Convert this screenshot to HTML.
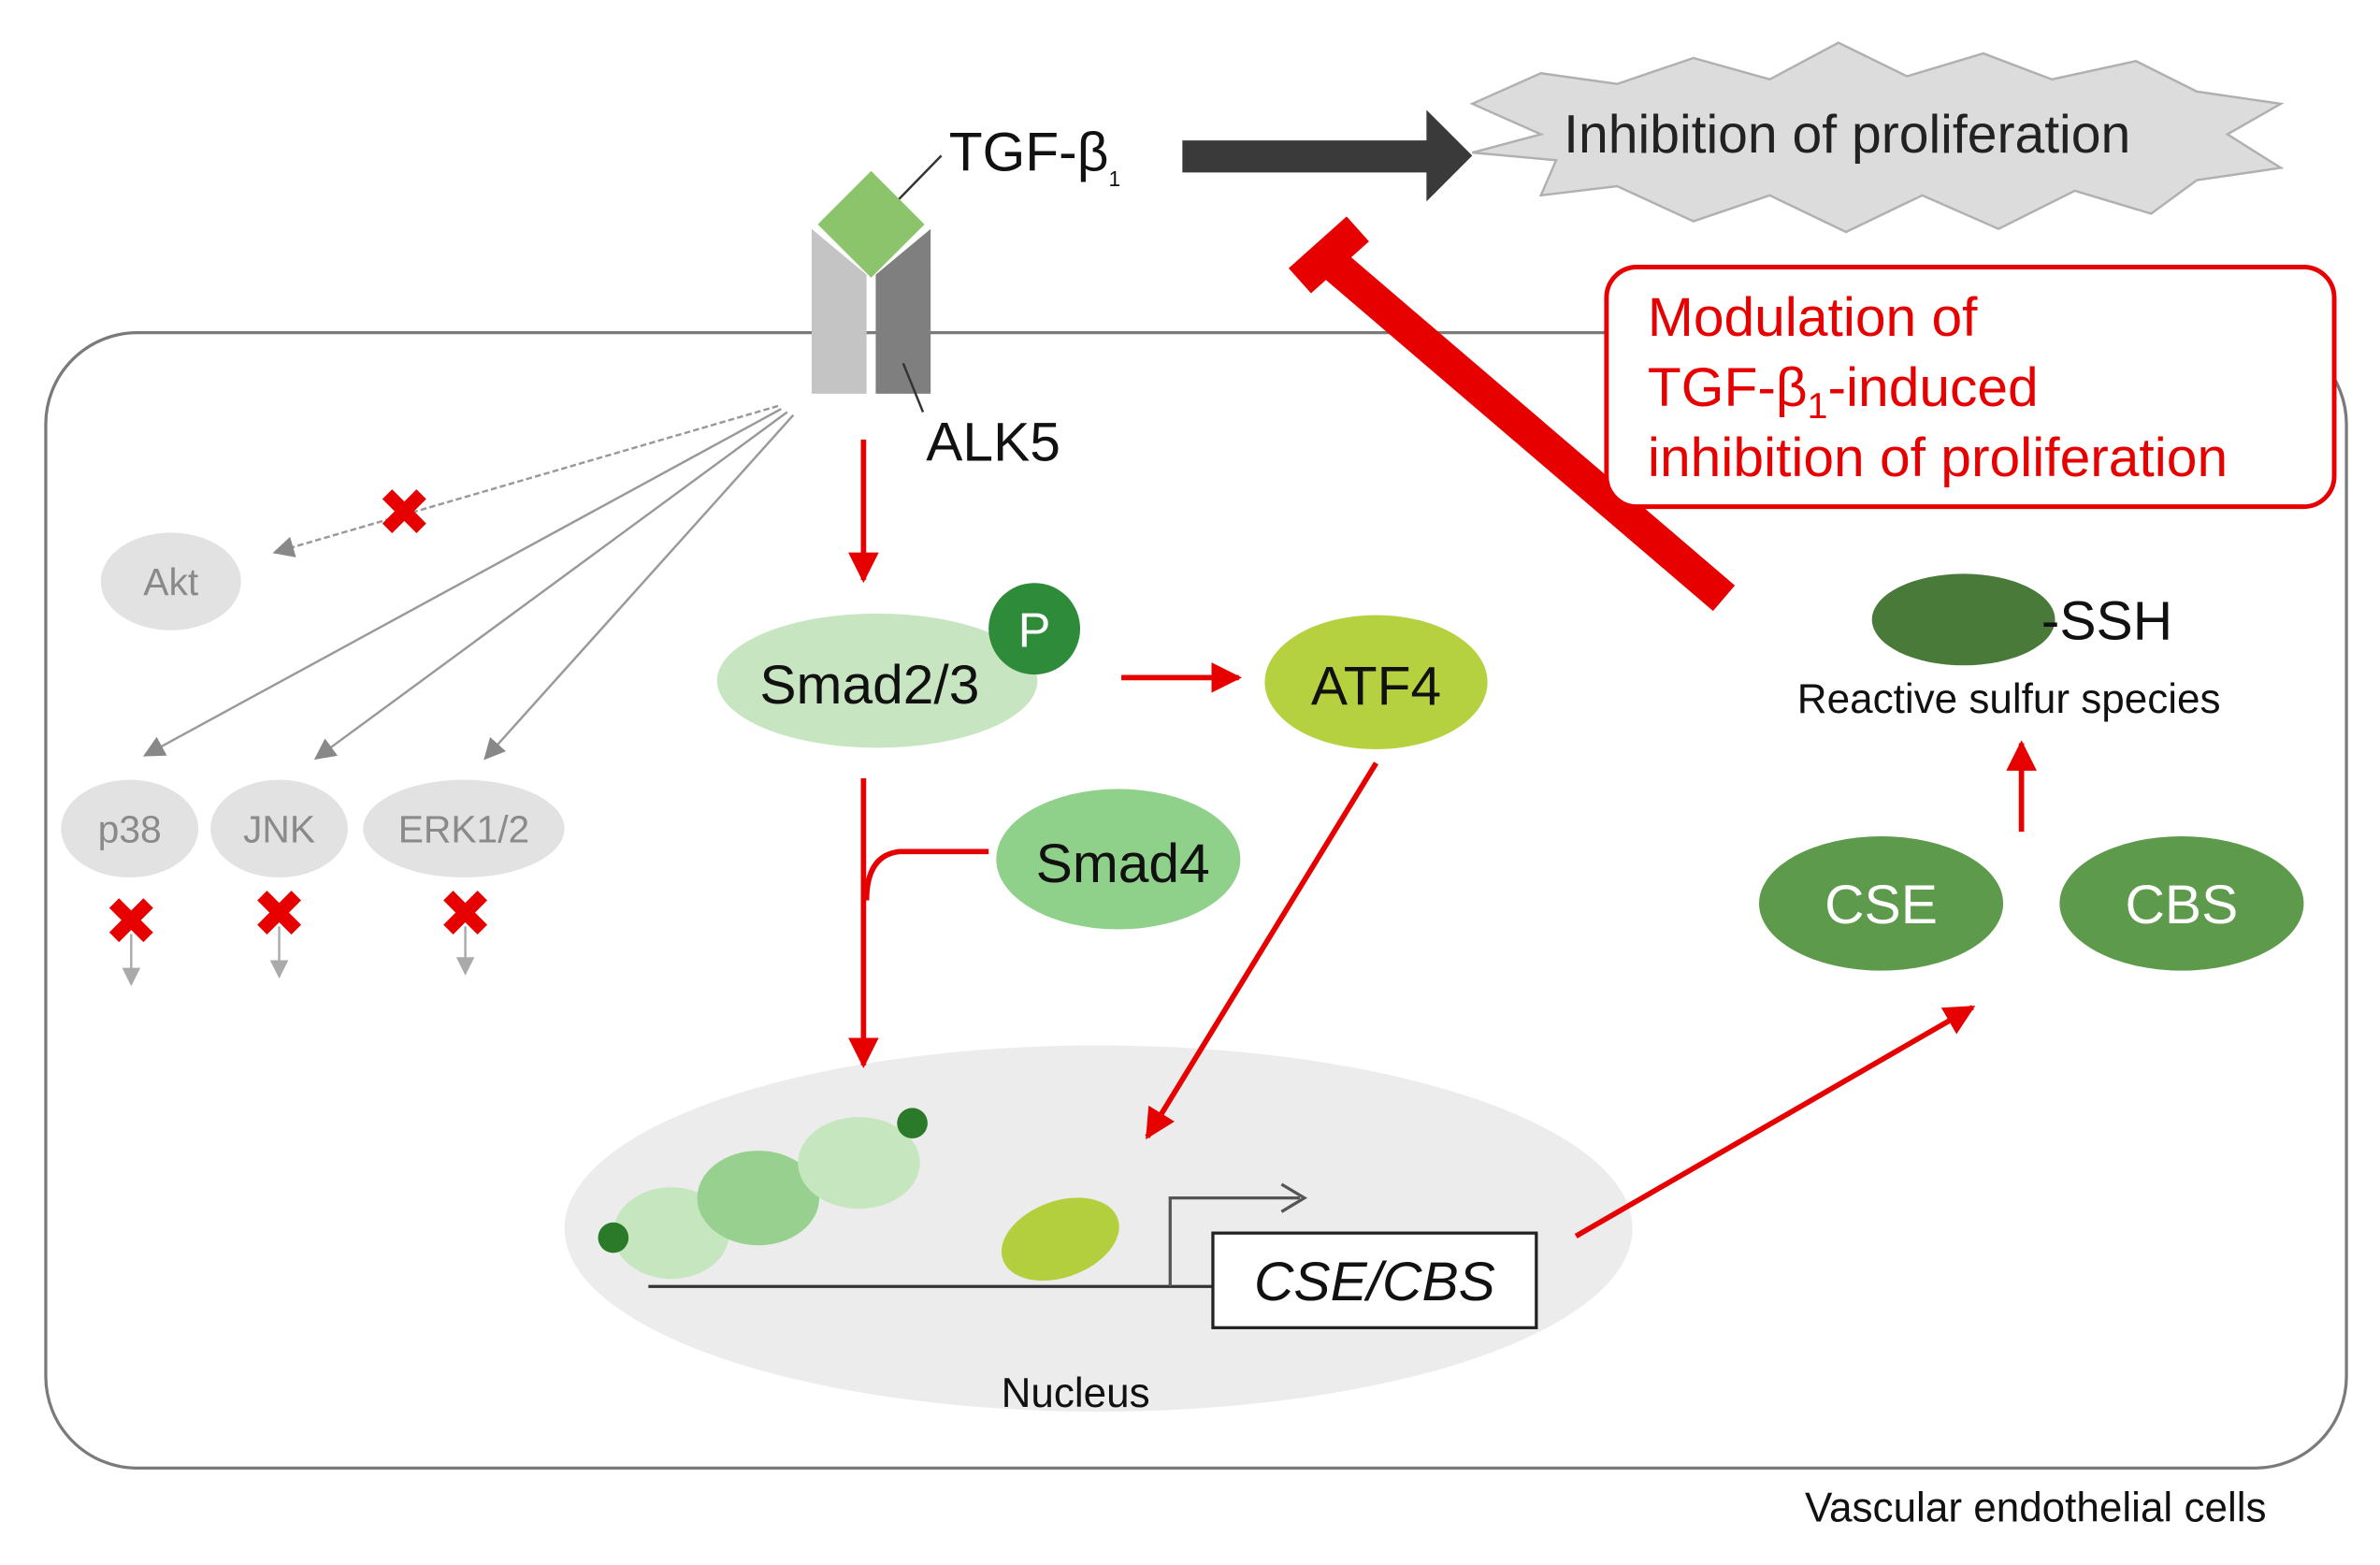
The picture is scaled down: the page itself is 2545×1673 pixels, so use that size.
<!DOCTYPE html>
<html><head><meta charset="utf-8"><style>
html,body{margin:0;padding:0;background:#fff;width:2545px;height:1673px;overflow:hidden}
svg{display:block}
text{font-family:"Liberation Sans",sans-serif}
</style></head><body>
<svg width="2545" height="1673" viewBox="0 0 1560 1025.5" xmlns="http://www.w3.org/2000/svg">
<defs>
<marker id="rb" viewBox="0 0 10 10" refX="9" refY="5" markerWidth="20" markerHeight="20" orient="auto" markerUnits="userSpaceOnUse"><path d="M0,0 L10,5 L0,10 z" fill="#e60000"/></marker>
<marker id="ga" viewBox="0 0 10 10" refX="9" refY="5" markerWidth="14" markerHeight="14" orient="auto" markerUnits="userSpaceOnUse"><path d="M0,0 L10,5 L0,10 z" fill="#888"/></marker>
<marker id="gb" viewBox="0 0 10 10" refX="9" refY="5" markerWidth="12" markerHeight="12" orient="auto" markerUnits="userSpaceOnUse"><path d="M0,0 L10,5 L0,10 z" fill="#aaa"/></marker>
</defs>
<rect x="30" y="218" width="1508" height="744" rx="60" fill="none" stroke="#7a7a7a" stroke-width="2"/>
<polygon points="965,68 1010,48 1060,55 1110,38 1160,52 1205,28 1250,50 1300,35 1345,52 1400,40 1440,60 1495,68 1460,88 1495,110 1440,118 1410,140 1360,125 1310,150 1260,128 1210,152 1160,128 1110,145 1060,122 1010,128 1020,105 965,100 1010,88" fill="#dcdcdc" stroke="#b0b0b0" stroke-width="1.5"/>
<text x="1025" y="100" font-size="35" fill="#222">Inhibition of proliferation</text>
<polygon points="775,92 935,92 935,72 965,102 935,132 935,113 775,113" fill="#3a3a3a"/>
<text x="622" y="112" font-size="36" fill="#111">TGF-β<tspan font-size="14" dy="10">1</tspan></text>
<line x1="580" y1="140" x2="617" y2="102" stroke="#333" stroke-width="1.5"/>
<polygon points="532,150 568,180 568,258 532,258" fill="#c4c4c4"/>
<polygon points="610,150 574,180 574,258 610,258" fill="#7f7f7f"/>
<polygon points="571,112 606,147 571,182 536,147" fill="#8cc46c"/>
<line x1="592" y1="238" x2="605" y2="270" stroke="#333" stroke-width="1.5"/>
<text x="607" y="302" font-size="36" fill="#111">ALK5</text>
<line x1="1130" y1="392" x2="868" y2="168" stroke="#e60000" stroke-width="22"/>
<line x1="852" y1="184" x2="890" y2="150" stroke="#e60000" stroke-width="22"/>
<rect x="1053" y="175" width="477" height="157" rx="20" fill="#fff" stroke="#e60000" stroke-width="3"/>
<text font-size="36" fill="#e60000"><tspan x="1080" y="220">Modulation of</tspan><tspan x="1080" y="266">TGF-β<tspan font-size="24" dy="8">1</tspan><tspan dy="-8">-induced</tspan></tspan><tspan x="1080" y="312">inhibition of proliferation</tspan></text>
<line x1="510" y1="266" x2="180" y2="362" stroke="#999" stroke-width="1.5" stroke-dasharray="4,2" marker-end="url(#ga)"/>
<line x1="512" y1="268" x2="95" y2="495" stroke="#999" stroke-width="1.5" marker-end="url(#ga)"/>
<line x1="516" y1="270" x2="207" y2="497" stroke="#999" stroke-width="1.5" marker-end="url(#ga)"/>
<line x1="520" y1="272" x2="318" y2="497" stroke="#999" stroke-width="1.5" marker-end="url(#ga)"/>
<g stroke="#e60000" stroke-width="9" stroke-linecap="square">
<path d="M257,327 L273,343 M273,327 L257,343"/>
<path d="M78,595 L94,611 M94,595 L78,611"/>
<path d="M175,590 L191,606 M191,590 L175,606"/>
<path d="M297,590 L313,606 M313,590 L297,606"/>
</g>
<line x1="86" y1="612" x2="86" y2="645" stroke="#aaa" stroke-width="1.5" marker-end="url(#gb)"/>
<line x1="183" y1="607" x2="183" y2="640" stroke="#aaa" stroke-width="1.5" marker-end="url(#gb)"/>
<line x1="305" y1="607" x2="305" y2="638" stroke="#aaa" stroke-width="1.5" marker-end="url(#gb)"/>
<g fill="#e2e2e2">
<ellipse cx="112" cy="381" rx="46" ry="32"/>
<ellipse cx="85" cy="543" rx="45" ry="32"/>
<ellipse cx="183" cy="543" rx="45" ry="32"/>
<ellipse cx="304" cy="543" rx="66" ry="32"/>
</g>
<g fill="#8a8a8a" font-size="25" text-anchor="middle">
<text x="112" y="390">Akt</text><text x="85" y="552">p38</text><text x="183" y="552">JNK</text><text x="304" y="552">ERK1/2</text>
</g>
<!-- nucleus first -->
<ellipse cx="720" cy="805" rx="350" ry="120" fill="#ececec"/>
<text x="705" y="922" font-size="27" text-anchor="middle" fill="#111">Nucleus</text>
<ellipse cx="440" cy="808" rx="38" ry="30" fill="#c5e6bf"/>
<ellipse cx="497" cy="785" rx="40" ry="31" fill="#98d08f"/>
<ellipse cx="563" cy="762" rx="40" ry="30" fill="#c5e6bf"/>
<circle cx="402" cy="811" r="10" fill="#2a7a2a"/>
<circle cx="598" cy="736" r="10" fill="#2a7a2a"/>
<ellipse cx="695" cy="812" rx="40" ry="25" fill="#b4cf3d" transform="rotate(-20 695 812)"/>
<line x1="425" y1="843" x2="795" y2="843" stroke="#333" stroke-width="2"/>
<path d="M767,843 L767,785 L852,785" fill="none" stroke="#555" stroke-width="2"/>
<path d="M840,776 L855,785 L840,794" fill="none" stroke="#555" stroke-width="2"/>
<rect x="795" y="808" width="212" height="62" fill="#fff" stroke="#222" stroke-width="2"/>
<text x="901" y="852" font-size="36" font-style="italic" text-anchor="middle" fill="#111">CSE/CBS</text>
<!-- red arrows -->
<line x1="566" y1="288" x2="566" y2="380" stroke="#e60000" stroke-width="3.5" marker-end="url(#rb)"/>
<line x1="735" y1="444" x2="812" y2="444" stroke="#e60000" stroke-width="3.5" marker-end="url(#rb)"/>
<line x1="566" y1="510" x2="566" y2="698" stroke="#e60000" stroke-width="3.5" marker-end="url(#rb)"/>
<path d="M648,558 L590,558 Q568,560 568,590" fill="none" stroke="#e60000" stroke-width="3.5"/>
<line x1="902" y1="500" x2="752" y2="745" stroke="#e60000" stroke-width="3.5" marker-end="url(#rb)"/>
<line x1="1033" y1="810" x2="1293" y2="660" stroke="#e60000" stroke-width="3.5" marker-end="url(#rb)"/>
<line x1="1325" y1="545" x2="1325" y2="487" stroke="#e60000" stroke-width="3.5" marker-end="url(#rb)"/>
<ellipse cx="575" cy="446" rx="105" ry="44" fill="#c6e5c0"/>
<text x="570" y="461" font-size="36" text-anchor="middle" fill="#111">Smad2/3</text>
<circle cx="678" cy="412" r="30" fill="#2e8b3a"/>
<text x="678" y="424" font-size="32" text-anchor="middle" fill="#fff">P</text>
<ellipse cx="902" cy="447" rx="73" ry="44" fill="#b6d140"/>
<text x="902" y="462" font-size="36" text-anchor="middle" fill="#111">ATF4</text>
<ellipse cx="733" cy="563" rx="80" ry="46" fill="#8fd08a"/>
<text x="736" y="578" font-size="36" text-anchor="middle" fill="#111">Smad4</text>
<ellipse cx="1233" cy="592" rx="80" ry="44" fill="#5e9a4c"/>
<text x="1233" y="605" font-size="36" text-anchor="middle" fill="#fff">CSE</text>
<ellipse cx="1430" cy="592" rx="80" ry="44" fill="#5e9a4c"/>
<text x="1430" y="605" font-size="36" text-anchor="middle" fill="#fff">CBS</text>
<ellipse cx="1287" cy="406" rx="60" ry="30" fill="#4a7a3a"/>
<text x="1338" y="419" font-size="36" fill="#111">-SSH</text>
<text x="1178" y="467" font-size="27" fill="#111">Reactive sulfur species</text>
<text x="1183" y="997" font-size="27" fill="#111">Vascular endothelial cells</text>
</svg>
</body></html>
